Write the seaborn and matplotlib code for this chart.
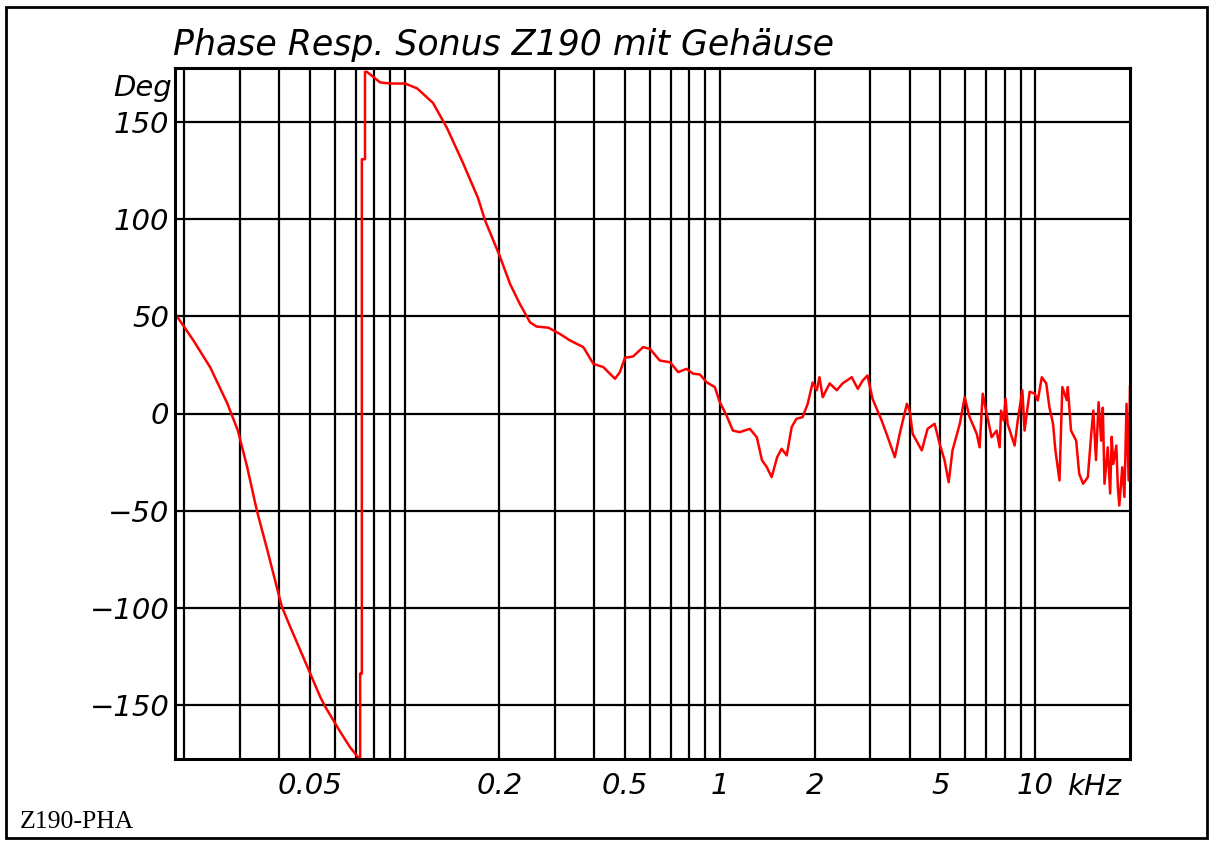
import numpy as np
import pandas as pd
import matplotlib
matplotlib.use("Agg")
import matplotlib.pyplot as plt
import seaborn as sns
from matplotlib.patches import Rectangle

# phase response, frequency in kHz, phase in degrees
freq_khz = [
    0.0188, 0.0214, 0.0242, 0.0274, 0.0296, 0.0317, 0.0340, 0.0366,
    0.0396, 0.0408, 0.0434, 0.0467, 0.0499, 0.0540, 0.0560, 0.0594, 0.0625,
    0.0672, 0.0719, 0.0723,
    0.0723, 0.0732, 0.0732, 0.0749, 0.0749,
    0.0760, 0.0836, 0.0899, 0.1004, 0.1096, 0.1231, 0.1364, 0.1533, 0.171,
    0.180, 0.201, 0.216, 0.232, 0.250, 0.262, 0.286, 0.311, 0.335, 0.369,
    0.397, 0.427, 0.448, 0.465, 0.482, 0.500, 0.531, 0.571, 0.600, 0.645,
    0.695, 0.738, 0.784, 0.823, 0.865, 0.908, 0.964, 1.0, 1.05, 1.10,
    1.156, 1.245, 1.31, 1.36, 1.41, 1.46, 1.52, 1.57, 1.63, 1.69, 1.75,
    1.83, 1.90, 1.97, 2.03, 2.07, 2.12, 2.23, 2.35, 2.45, 2.62, 2.74, 2.84,
    2.94, 3.05, 3.26, 3.38, 3.59, 3.72, 3.92, 4.00, 4.09, 4.37, 4.56, 4.80,
    4.98, 5.16, 5.32, 5.47, 5.77, 5.98, 6.20, 6.53, 6.67, 6.82, 7.02, 7.28,
    7.55, 7.72, 7.80, 7.95, 8.06, 8.18, 8.61, 8.81, 9.11, 9.26, 9.61, 9.96,
    10.2, 10.5, 10.85, 11.1, 11.4, 11.6, 11.95, 12.2, 12.6, 12.7, 13.0, 13.5,
    13.8, 14.2, 14.7, 15.1, 15.3, 15.6, 15.9, 16.2, 16.4, 16.6, 17.0, 17.3,
    17.5, 17.7, 18.1, 18.3, 18.5, 18.9, 19.2, 19.5, 19.8, 20.0,
]
phase_deg = [
    51, 37.6, 23.7, 5.2, -8.8, -27.8, -50, -69.6,
    -91.2, -99.5, -110, -122, -133, -146, -151, -158, -164,
    -172, -178, -178,
    -134, -134, 131, 131, 176,
    176, 170.6, 170, 170, 167.5, 160, 147, 129, 111,
    99.5, 80.6, 66.8, 56.5, 47, 44.8, 44.2, 41, 37.6, 34.2,
    25.6, 23.9, 20.5, 17.9, 21.3, 28.7, 29.4, 34.2, 33.3, 27.3,
    26.4, 21.3, 23, 20.5, 20.1, 16.1, 13.6, 5.8, -1, -8.8,
    -9.6, -7.9, -12.2, -24, -27.7, -32.8, -22.5, -18.2, -21.6, -7, -2.7,
    -1.9, 5, 16, 12, 18.7, 8.4, 15.5, 12, 15.5, 18.7, 12.7, 17,
    19.6, 7.6, -3.6, -10.5, -22.5, -10.5, 5, 1.5, -10.5, -19, -7.9, -5.3,
    -15.6, -24, -35.4, -19, -5.3, 8.4, -1.9, -10.5, -17.4, 10.2, 0, -12.2,
    -8.8, -17.4, 1.5, -3.6, 7.6, -5.3, -16.5, -3.6, 12, -8.8, 11.2, 10.3,
    6.7, 18.7, 15.5, 3.3, -5.3, -19, -34.5, 13.6, 6.9, 13.6, -8.8, -14,
    -31, -36.2, -32.8, -8.8, 1.5, -24, 5.8, -14, 3, -36.2, -17.4, -41.2,
    -12, -26, -16.5, -38, -47.4, -27.7, -43, 5, -34.5, 14.4,
]

x_ticks = [0.05, 0.2, 0.5, 1, 2, 5, 10]
x_tick_labels = ["0.05", "0.2", "0.5", "1", "2", "5", "10"]
y_ticks = [-150, -100, -50, 0, 50, 100, 150]
y_tick_labels = ["\u2212150", "\u2212100", "\u221250", "0", "50", "100", "150"]

df = pd.DataFrame({"freq": freq_khz, "phase": phase_deg})

sns.set_style("white")
plt.rcParams["font.family"] = ["DejaVu Sans"]
plt.rcParams["text.color"] = "black"
plt.rcParams["xtick.color"] = "black"
plt.rcParams["ytick.color"] = "black"

fig = plt.figure(figsize=(12.13, 8.41), dpi=100)
ax = fig.add_axes([175 / 1213, 1 - 759 / 841, 955 / 1213, 691 / 841])

sns.lineplot(data=df, x="freq", y="phase", ax=ax, color="red", lw=1.8,
             sort=False, estimator=None)

ax.set_xscale("log")
ax.set_xlim(0.0187, 20)
ax.set_ylim(-178, 178)

# grid lines on every 1..9 per decade
grid_x = [m * d for d in (0.01, 0.1, 1, 10) for m in range(1, 10)]
grid_x = [g for g in grid_x if 0.0187 < g < 20]
for g in grid_x:
    ax.axvline(g, color="black", lw=1.6, zorder=1)
for g in y_ticks:
    ax.axhline(g, color="black", lw=1.6, zorder=1)

ax.set_xticks(x_ticks)
ax.set_xticklabels(x_tick_labels)
ax.set_xticks([], minor=True)
ax.set_yticks(y_ticks)
ax.set_yticklabels(y_tick_labels)
ax.tick_params(axis="x", length=0, pad=9, labelsize=21, colors="black")
ax.tick_params(axis="y", length=0, pad=4, labelsize=21, colors="black")
for lbl in ax.get_xticklabels() + ax.get_yticklabels():
    lbl.set_style("italic")
ax.set_xlabel("")
ax.set_ylabel("")

for s in ax.spines.values():
    s.set_color("black")
    s.set_linewidth(2.2)
    s.set_visible(True)

fig.text(173 / 1213, 1 - 55 / 841, "Phase Resp. Sonus Z190 mit Geh\u00e4use",
         fontsize=25, style="italic", ha="left", va="baseline", color="black")
fig.text(172 / 1213, 1 - 96 / 841, "Deg", fontsize=21, style="italic",
         ha="right", va="baseline", color="black")
fig.text(1068 / 1213, 1 - 795 / 841, "kHz", fontsize=21, style="italic",
         ha="left", va="baseline", color="black")
fig.text(20 / 1213, 1 - 828 / 841, "Z190-PHA", fontsize=18.5,
         family="Liberation Serif", ha="left", va="baseline", color="black")

fig.patches.append(Rectangle((6 / 1213, 3 / 841), 1201 / 1213, 831 / 841,
                             transform=fig.transFigure, fill=False,
                             edgecolor="black", lw=2))

fig.savefig("out.png", dpi=100)
